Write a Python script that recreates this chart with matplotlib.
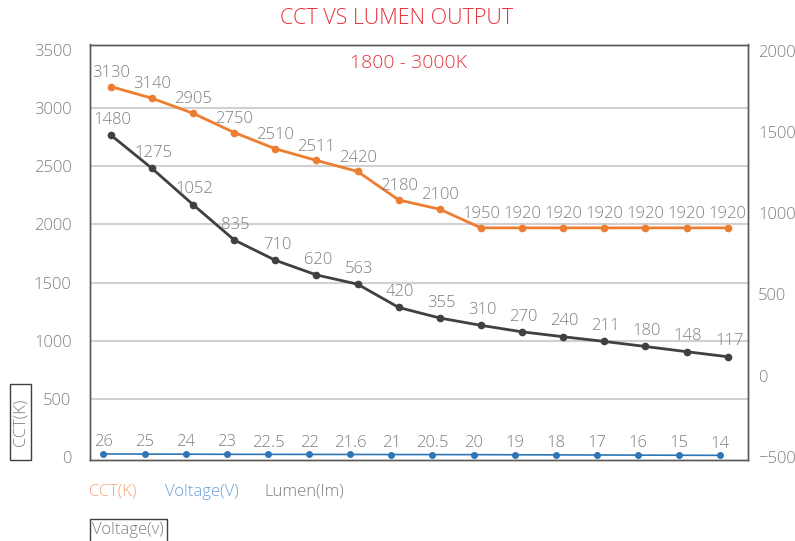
import numpy as np
import matplotlib.pyplot as plt
from matplotlib.patches import Rectangle

# Daten
voltage = [26, 25, 24, 23, 22.5, 22, 21.6, 21, 20.5, 20, 19, 18, 17, 16, 15, 14]
voltage_labels = ['26', '25', '24', '23', '22.5', '22', '21.6', '21', '20.5', '20',
                  '19', '18', '17', '16', '15', '14']
# Lage der CCT-Punkte passt nicht genau zu den Beschriftungen -> beides getrennt
cct = [3185, 3085, 2955, 2790, 2650, 2550, 2455, 2210, 2130, 1970,
       1970, 1970, 1970, 1970, 1970, 1970]
cct_labels = ['3130', '3140', '2905', '2750', '2510', '2511', '2420', '2180', '2100', '1950',
              '1920', '1920', '1920', '1920', '1920', '1920']
lumen = [1480, 1275, 1052, 835, 710, 620, 563, 420, 355, 310, 270, 240, 211, 180, 148, 117]

# Farben
orange = '#ED7D31'
dark = '#404040'
blue = '#2E75B6'
grey_txt = '#7F7F7F'
red = '#E8323C'

plt.rcParams['font.family'] = ['Open Sans', 'DejaVu Sans']
plt.rcParams['font.weight'] = 'light'

fig = plt.figure(figsize=(7.95, 5.41), dpi=100)
W, H = 795, 541
ax = fig.add_axes([90.3 / W, 1 - 460 / H, 658 / W, 415.5 / H])
ax2 = ax.twinx()

x = np.arange(len(voltage))

# Achsen
ax.set_xlim(-0.5, len(voltage) - 0.5)
ax.set_ylim(-26, 3547)
ax2.set_ylim(-518, 2037)
ax.set_yticks(range(0, 3501, 500))
ax2.set_yticks(range(-500, 2001, 500))
ax.set_xticks([])
ax.tick_params(axis='y', length=0, pad=13.5, labelsize=12, labelcolor=grey_txt)
ax2.tick_params(axis='y', length=0, pad=7, labelsize=12, labelcolor=grey_txt)
for a in (ax, ax2):
    for s in a.spines.values():
        s.set_color('#595959')
        s.set_linewidth(1.0)

# Gitterlinien (ohne 0 und 3500)
for v in ax.get_yticks()[1:-1]:
    ax.axhline(v, color='#D0D0D0', lw=1.5, zorder=0)

# CCT
ax.plot(x, cct, color=orange, lw=2, marker='o', ms=4.5, zorder=3)
for xi, yi, t in zip(x, cct, cct_labels):
    ax.annotate(t, (xi, yi), xytext=(0, 10), textcoords='offset points',
                ha='center', va='center', fontsize=12, color=grey_txt)

# Spannung (leicht nach links versetzt wie im Original)
xv = x - 0.18
ax.plot(xv, voltage, color=blue, lw=1.2, marker='o', ms=4, zorder=3)
for xi, yi, t in zip(xv, voltage, voltage_labels):
    ax.annotate(t, (xi, yi), xytext=(0, 8.5), textcoords='offset points',
                ha='center', va='center', fontsize=12, color=grey_txt)

# Lumen auf rechter Achse
ax2.plot(x, lumen, color=dark, lw=2, marker='o', ms=4.5, zorder=3)
for xi, yi in zip(x, lumen):
    ax2.annotate(str(yi), (xi, yi), xytext=(1, 11), textcoords='offset points',
                 ha='center', va='center', fontsize=12, color=grey_txt)

# Titel
fig.text(396.7 / W, 1 - 18.3 / H, 'CCT VS LUMEN OUTPUT', ha='center', va='center',
         fontsize=15.5, color=red)
fig.text(408 / W, 1 - 63.3 / H, '1800 - 3000K', ha='center', va='center',
         fontsize=14, color=red)

# Legende als Text
fig.text(89.3 / W, 1 - 491.7 / H, 'CCT(K)', ha='left', va='center', fontsize=12, color='#F2A27A')
fig.text(165 / W, 1 - 491.7 / H, 'Voltage(V)', ha='left', va='center', fontsize=12, color='#6A9FD8')
fig.text(264 / W, 1 - 491.7 / H, 'Lumen(lm)', ha='left', va='center', fontsize=12, color=grey_txt)

# Achsentitel mit Rahmen
fig.patches.append(Rectangle((10 / W, 1 - 460 / H), 21 / W, 76 / H, transform=fig.transFigure,
                             fill=False, ec='#404040', lw=1))
fig.text(20.5 / W, 1 - 422 / H, 'CCT(K)', rotation=90, ha='center', va='center',
         fontsize=12, color=grey_txt)
fig.patches.append(Rectangle((90 / W, 1 - 545 / H), 76.7 / W, 25.7 / H, transform=fig.transFigure,
                             fill=False, ec='#404040', lw=1))
fig.text(128.3 / W, 1 - 529.5 / H, 'Voltage(v)', ha='center', va='center',
         fontsize=12, color=grey_txt)

fig.savefig('out.png', dpi=100)
